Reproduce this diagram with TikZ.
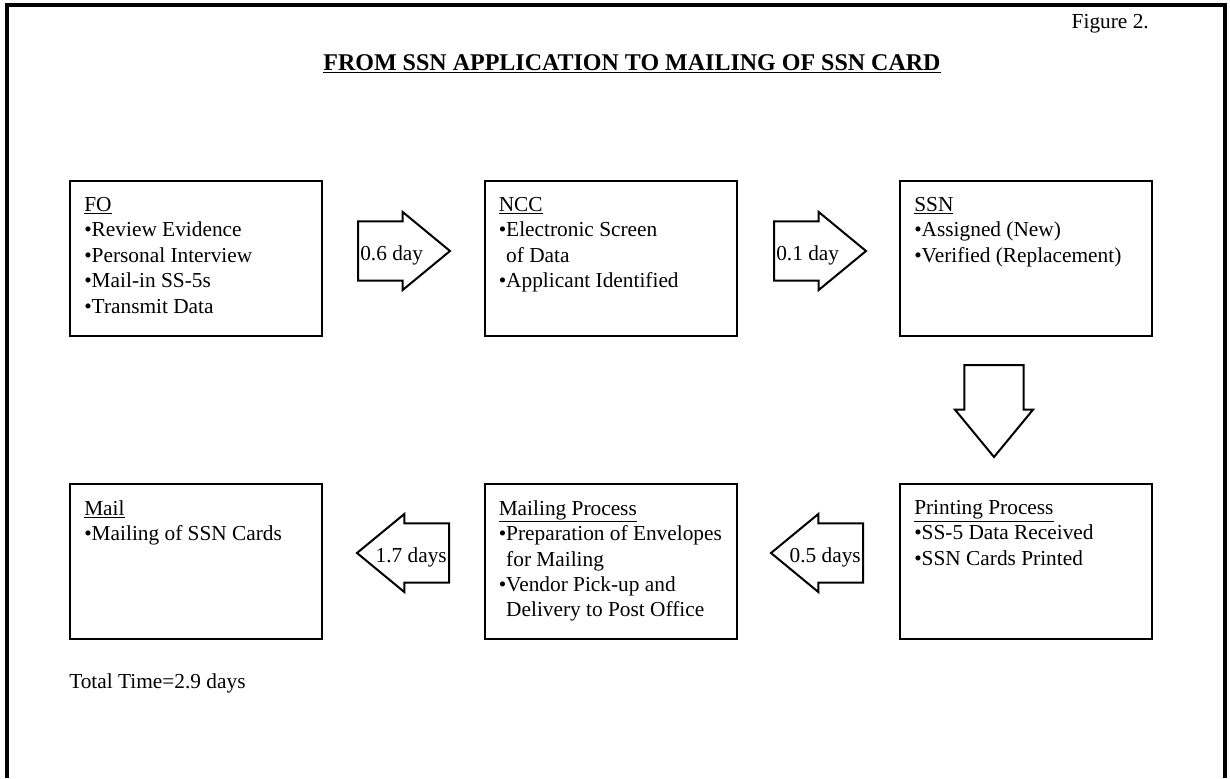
\documentclass[tikz,border=0pt]{standalone}
\usepackage{fontspec}
\setmainfont{Liberation Serif}
\usetikzlibrary{shapes.arrows,calc}

\tikzset{
  procbox/.style={draw, line width=1.5pt, minimum width=189pt, minimum height=116.25pt, inner sep=0pt},
  boxtext/.style={anchor=north west, align=left, inner sep=0pt, font=\fontsize{16}{19.1}\selectfont},
  fatarrow/.style={draw, line width=1.5pt, single arrow, anchor=tail, minimum height=69pt,
    single arrow head extend=7.1pt, single arrow tip angle=79, single arrow head indent=0pt, inner sep=0pt},
  daytext/.style={inner sep=0pt, font=\fontsize{16}{19.1}\selectfont}
}
\newcommand{\gap}{\phantom{\textbullet}}
\newcommand{\shaft}{\rule[-21.4pt]{0pt}{42.8pt}}
\newcommand{\vshaft}{\rule{42.8pt}{0pt}}

\begin{document}
\begin{tikzpicture}[x=0.75pt,y=0.75pt,yscale=-1,xscale=1]
\useasboundingbox (0,0) rectangle (1230,778);

%Shape: Frame (open at the bottom)
\draw [line width=3pt] (7,778) -- (7,5) -- (1225,5) -- (1225,778) ;

% Text Node
\node (fig) at (1149,28) [anchor=base east, daytext] {Figure 2.};
% Text Node
\node (title) at (632,70) [anchor=base, inner sep=0pt, font=\fontsize{18}{22}\selectfont\bfseries] {\underline{FROM SSN APPLICATION TO MAILING OF SSN CARD}};

%Shape: Rectangle [FO]
\node (fo) at (196,258.5) [procbox] {};
%Shape: Rectangle [NCC]
\node (ncc) at (610.5,258.5) [procbox] {};
%Shape: Rectangle [SSN]
\node (ssn) at (1026,258.5) [procbox] {};
%Shape: Rectangle [Printing]
\node (print) at (1026,561.5) [procbox] {};
%Shape: Rectangle [Mailing]
\node (mailing) at (610.5,561.5) [procbox] {};
%Shape: Rectangle [Mail]
\node (mail) at (196,561.5) [procbox] {};

% Text Node
\node (fotxt) at ($(fo.north west)+(15,17)$) [boxtext] {\underline{FO}\\\textbullet Review Evidence\\\textbullet Personal Interview\\\textbullet Mail-in SS-5s\\\textbullet Transmit Data};
% Text Node
\node (ncctxt) at ($(ncc.north west)+(15,17)$) [boxtext] {\underline{NCC}\\\textbullet Electronic Screen\\\gap of Data\\\textbullet Applicant Identified};
% Text Node
\node (ssntxt) at ($(ssn.north west)+(15,17)$) [boxtext] {\underline{SSN}\\\textbullet Assigned (New)\\\textbullet Verified (Replacement)};
% Text Node
\node (printtxt) at ($(print.north west)+(15,17)$) [boxtext] {\underline{Printing Process}\\\textbullet SS-5 Data Received\\\textbullet SSN Cards Printed};
% Text Node
\node (mailingtxt) at ($(mailing.north west)+(15,17)$) [boxtext] {\underline{Mailing Process}\\\textbullet Preparation of Envelopes\\\gap for Mailing\\\textbullet Vendor Pick-up and\\\gap Delivery to Post Office};
% Text Node
\node (mailtxt) at ($(mail.north west)+(15,17)$) [boxtext] {\underline{Mail}\\\textbullet Mailing of SSN Cards};

%Shape: Right Arrow
\node (arrfo) at (357,251) [fatarrow] {\shaft};
%Shape: Right Arrow
\node (arrncc) at (773,251) [fatarrow] {\shaft};
%Shape: Down Arrow
\node (arrssn) at (994,364) [fatarrow, shape border rotate=270] {\vshaft};
%Shape: Left Arrow
\node (arrprint) at (864,553) [fatarrow, shape border rotate=180] {\shaft};
%Shape: Left Arrow
\node (arrmailing) at (450,553) [fatarrow, shape border rotate=180] {\shaft};

% Text Node
\node (dayfo) at ($(arrfo.tail)+(3,9)$) [anchor=base west, daytext] {0.6 day};
% Text Node
\node (dayncc) at ($(arrncc.tail)+(3,9)$) [anchor=base west, daytext] {0.1 day};
% Text Node
\node (dayprint) at ($(arrprint.tail)+(-3,9)$) [anchor=base east, daytext] {0.5 days};
% Text Node
\node (daymailing) at ($(arrmailing.tail)+(-3,9)$) [anchor=base east, daytext] {1.7 days};

% Text Node
\node (total) at (69,688) [anchor=base west, daytext] {Total Time=2.9 days};

\end{tikzpicture}
\end{document}
